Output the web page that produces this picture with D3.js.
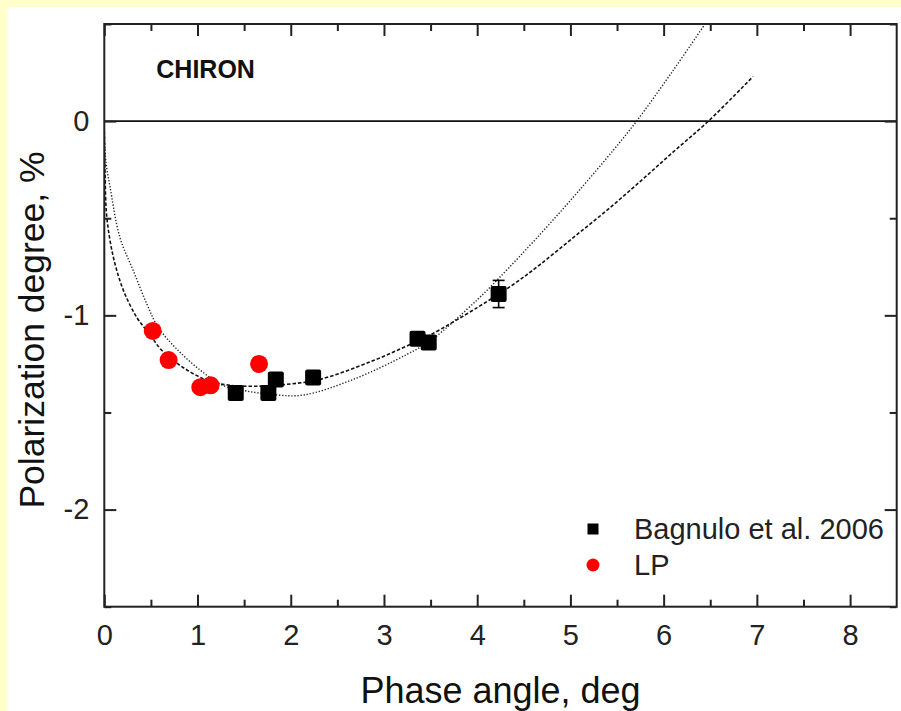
<!DOCTYPE html>
<html>
<head>
<meta charset="utf-8">
<script src="https://cdn.jsdelivr.net/npm/d3@7"></script>
<style>
  html, body { margin: 0; padding: 0; background: #ffffcc; }
  svg { display: block; font-family: 'Liberation Sans', Arial, sans-serif; }
</style>
</head>
<body>
<div id="chart"></div>
<script>
// Bagnulo et al. 2006 measurements
const bagAngle = [1.41, 1.76, 1.84, 2.24, 3.36, 3.48, 4.23];
const bagPol = [-1.40, -1.40, -1.33, -1.32, -1.12, -1.14, -0.89];
const bagErr = [0.03, 0.03, 0.03, 0.03, 0.03, 0.03, 0.07];

// LP measurements
const lpAngle = [0.52, 0.69, 1.03, 1.14, 1.66];
const lpPol = [-1.08, -1.23, -1.37, -1.36, -1.25];

// fit curve A (dashed)
const fitAAngle = [0, 0.008, 0.026, 0.097, 0.204, 0.348, 0.49, 0.616, 0.85, 1.13, 1.35, 1.62, 1.96, 2.31, 2.85, 3.28, 3.5, 4.0, 4.39, 4.67, 5.03, 5.39, 5.75, 6.1, 6.48, 6.96];
const fitAPol = [-0.05, -0.25, -0.49, -0.70, -0.87, -1.01, -1.10, -1.18, -1.27, -1.34, -1.36, -1.365, -1.355, -1.33, -1.24, -1.15, -1.10, -0.96, -0.84, -0.74, -0.60, -0.46, -0.31, -0.16, 0.0, 0.23];

// fit curve B (dotted)
const fitBAngle = [0, 0.015, 0.062, 0.168, 0.311, 0.455, 0.576, 0.791, 1.05, 1.27, 1.53, 1.85, 2.14, 2.67, 3.25, 3.5, 4.0, 4.23, 4.68, 5.07, 5.46, 5.71, 6.1, 6.43];
const fitBPol = [-0.05, -0.2, -0.34, -0.60, -0.77, -0.94, -1.06, -1.18, -1.29, -1.36, -1.39, -1.41, -1.41, -1.33, -1.20, -1.13, -0.92, -0.81, -0.58, -0.37, -0.15, 0.0, 0.26, 0.49];

const xTicks = [0, 1, 2, 3, 4, 5, 6, 7, 8];
const yTicks = [0, -1, -2];
const xMinor = [0.5, 1.5, 2.5, 3.5, 4.5, 5.5, 6.5, 7.5];
const yMinor = [0.5, -0.5, -1.5, -2.5];

class PolarizationChart {
  constructor(container, options = {}) {
    this.container = container;
    this.options = {
      width: 901,
      height: 711,
      margin: { top: 24, right: 4.3, bottom: 104.3, left: 104.3 },
      ...options
    };
    this.init();
  }

  init() {
    const { width, height, margin } = this.options;
    this.svg = d3.select(this.container)
      .append('svg')
      .attr('width', width)
      .attr('height', height);

    // pale yellow frame on the top and left, white page inside
    this.svg.append('rect')
      .attr('width', width)
      .attr('height', height)
      .attr('fill', '#ffffcc');
    this.svg.append('rect')
      .attr('x', 7.5)
      .attr('y', 7)
      .attr('width', width - 7.5)
      .attr('height', height - 7)
      .attr('fill', '#fff');

    this.innerW = width - margin.left - margin.right;
    this.innerH = height - margin.top - margin.bottom;

    this.x = d3.scaleLinear().domain([0, 8.5]).range([0, this.innerW]);
    this.y = d3.scaleLinear().domain([-2.5, 0.5]).range([this.innerH, 0]);

    this.g = this.svg.append('g')
      .attr('transform', `translate(${margin.left},${margin.top})`);

    this.svg.append('defs').append('clipPath')
      .attr('id', 'plot-clip')
      .append('rect')
      .attr('width', this.innerW)
      .attr('height', this.innerH);
  }

  render() {
    const { x, y, g, innerW } = this;

    // zero line
    g.append('line')
      .attr('x1', 0)
      .attr('x2', innerW)
      .attr('y1', y(0))
      .attr('y2', y(0))
      .attr('stroke', '#111')
      .attr('stroke-width', 1.6);

    // fit curves
    const line = d3.line()
      .x(d => x(d[0]))
      .y(d => y(d[1]))
      .curve(d3.curveCatmullRom.alpha(0.5));

    const curves = g.append('g').attr('clip-path', 'url(#plot-clip)');
    curves.append('path')
      .datum(d3.zip(fitAAngle, fitAPol))
      .attr('d', line)
      .attr('fill', 'none')
      .attr('stroke', '#111')
      .attr('stroke-width', 1.6)
      .attr('stroke-dasharray', '3.5,2');
    curves.append('path')
      .datum(d3.zip(fitBAngle, fitBPol))
      .attr('d', line)
      .attr('fill', 'none')
      .attr('stroke', '#222')
      .attr('stroke-width', 1.4)
      .attr('stroke-dasharray', '1.3,1.8');

    // error bars (only the large one shows outside the marker)
    const bag = bagAngle.map((a, i) => ({ a, p: bagPol[i], e: bagErr[i] }));
    const err = g.append('g').selectAll('g')
      .data(bag)
      .join('g')
      .attr('stroke', '#000')
      .attr('stroke-width', 1.6);
    err.append('line')
      .attr('x1', d => x(d.a)).attr('x2', d => x(d.a))
      .attr('y1', d => y(d.p - d.e)).attr('y2', d => y(d.p + d.e));
    err.append('line')
      .attr('x1', d => x(d.a) - 6).attr('x2', d => x(d.a) + 6)
      .attr('y1', d => y(d.p - d.e)).attr('y2', d => y(d.p - d.e));
    err.append('line')
      .attr('x1', d => x(d.a) - 6).attr('x2', d => x(d.a) + 6)
      .attr('y1', d => y(d.p + d.e)).attr('y2', d => y(d.p + d.e));

    // squares
    const sq = 16;
    g.append('g').selectAll('rect')
      .data(bag)
      .join('rect')
      .attr('x', d => x(d.a) - sq / 2)
      .attr('y', d => y(d.p) - sq / 2)
      .attr('width', sq)
      .attr('height', sq)
      .attr('rx', 2)
      .attr('fill', '#000');

    // red circles
    g.append('g').selectAll('circle')
      .data(d3.zip(lpAngle, lpPol))
      .join('circle')
      .attr('cx', d => x(d[0]))
      .attr('cy', d => y(d[1]))
      .attr('r', 9)
      .attr('fill', '#ff0000');

    this._renderAxes();
    this._renderLabels();
  }

  _renderAxes() {
    const { x, y, g, innerW, innerH } = this;
    const fmt = d => d3.format('d')(d).replace('−', '-');

    const styleAxis = sel => {
      sel.select('.domain').remove();
      sel.selectAll('line').attr('stroke', '#222').attr('stroke-width', 2);
      sel.selectAll('text')
        .attr('fill', '#222')
        .style('font-size', '29px')
        .style('font-family', "'Liberation Sans', Arial, sans-serif");
    };

    // bottom
    g.append('g').attr('transform', `translate(0,${innerH})`)
      .call(d3.axisBottom(x).tickValues(xTicks).tickSize(-12).tickPadding(18).tickFormat(fmt))
      .call(styleAxis);
    g.append('g').attr('transform', `translate(0,${innerH})`)
      .call(d3.axisBottom(x).tickValues(xMinor).tickSize(-7).tickFormat(''))
      .call(styleAxis);
    // top
    g.append('g')
      .call(d3.axisTop(x).tickValues(xTicks).tickSize(-12).tickFormat(''))
      .call(styleAxis);
    g.append('g')
      .call(d3.axisTop(x).tickValues(xMinor).tickSize(-7).tickFormat(''))
      .call(styleAxis);
    // left
    g.append('g')
      .call(d3.axisLeft(y).tickValues(yTicks).tickSize(-12).tickPadding(15).tickFormat(fmt))
      .call(styleAxis);
    g.append('g')
      .call(d3.axisLeft(y).tickValues(yMinor).tickSize(-7).tickFormat(''))
      .call(styleAxis);
    // right
    g.append('g').attr('transform', `translate(${innerW},0)`)
      .call(d3.axisRight(y).tickValues(yTicks).tickSize(-12).tickFormat(''))
      .call(styleAxis);
    g.append('g').attr('transform', `translate(${innerW},0)`)
      .call(d3.axisRight(y).tickValues(yMinor).tickSize(-7).tickFormat(''))
      .call(styleAxis);

    // frame
    g.append('rect')
      .attr('width', innerW)
      .attr('height', innerH)
      .attr('fill', 'none')
      .attr('stroke', '#222')
      .attr('stroke-width', 2);
  }

  _renderLabels() {
    const { g, innerW, innerH } = this;
    const { margin } = this.options;

    g.append('text')
      .attr('x', 52)
      .attr('y', 54)
      .attr('font-size', 25)
      .attr('font-weight', 'bold')
      .attr('fill', '#111')
      .text('CHIRON');

    g.append('text')
      .attr('x', innerW / 2)
      .attr('y', innerH + 96)
      .attr('text-anchor', 'middle')
      .attr('font-size', 36)
      .attr('fill', '#111')
      .text('Phase angle, deg');

    g.append('text')
      .attr('transform', `translate(${44 - margin.left},${330 - margin.top}) rotate(-90)`)
      .attr('text-anchor', 'middle')
      .attr('font-size', 35.5)
      .attr('fill', '#111')
      .text('Polarization degree, %');

    // legend
    const legend = g.append('g')
      .attr('transform', `translate(${593 - margin.left},${529 - margin.top})`);
    legend.append('rect')
      .attr('x', -5.5).attr('y', -5.5)
      .attr('width', 11).attr('height', 11)
      .attr('fill', '#000');
    legend.append('circle')
      .attr('cy', 36)
      .attr('r', 6.5)
      .attr('fill', '#ff0000');
    legend.append('text')
      .attr('x', 41).attr('y', 10)
      .attr('font-size', 29)
      .attr('fill', '#222')
      .text('Bagnulo et al. 2006');
    legend.append('text')
      .attr('x', 41).attr('y', 46)
      .attr('font-size', 29)
      .attr('fill', '#222')
      .text('LP');
  }
}

const chart = new PolarizationChart(document.getElementById('chart'));
chart.render();
</script>
</body>
</html>
